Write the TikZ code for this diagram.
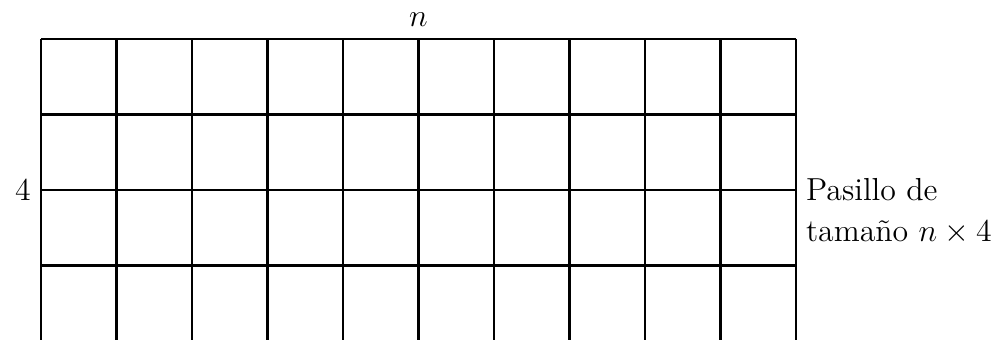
\documentclass[tikz,border=0pt]{standalone}
\usepackage{fontspec}
\begin{document}
\begin{tikzpicture}[font=\large, line width=1pt]
  \useasboundingbox (-0.543,0.026) rectangle (12.73,4.517);
  % cuadrícula del pasillo
  \foreach \x in {0,1,...,10}
    \draw (\x,0) -- (\x,4);
  \foreach \y in {1,2,3,4}
    \draw (0,\y) -- (10,\y);
  % etiquetas
  \node (n) at (5,4.25) {$n$};
  \node[left] (cuatro) at (0,2) {$4$};
  \node[anchor=west, align=left] (pasillo) at (10,1.72)
    {Pasillo de\\[1.5pt] tamaño $n\times 4$};
\end{tikzpicture}
\end{document}
